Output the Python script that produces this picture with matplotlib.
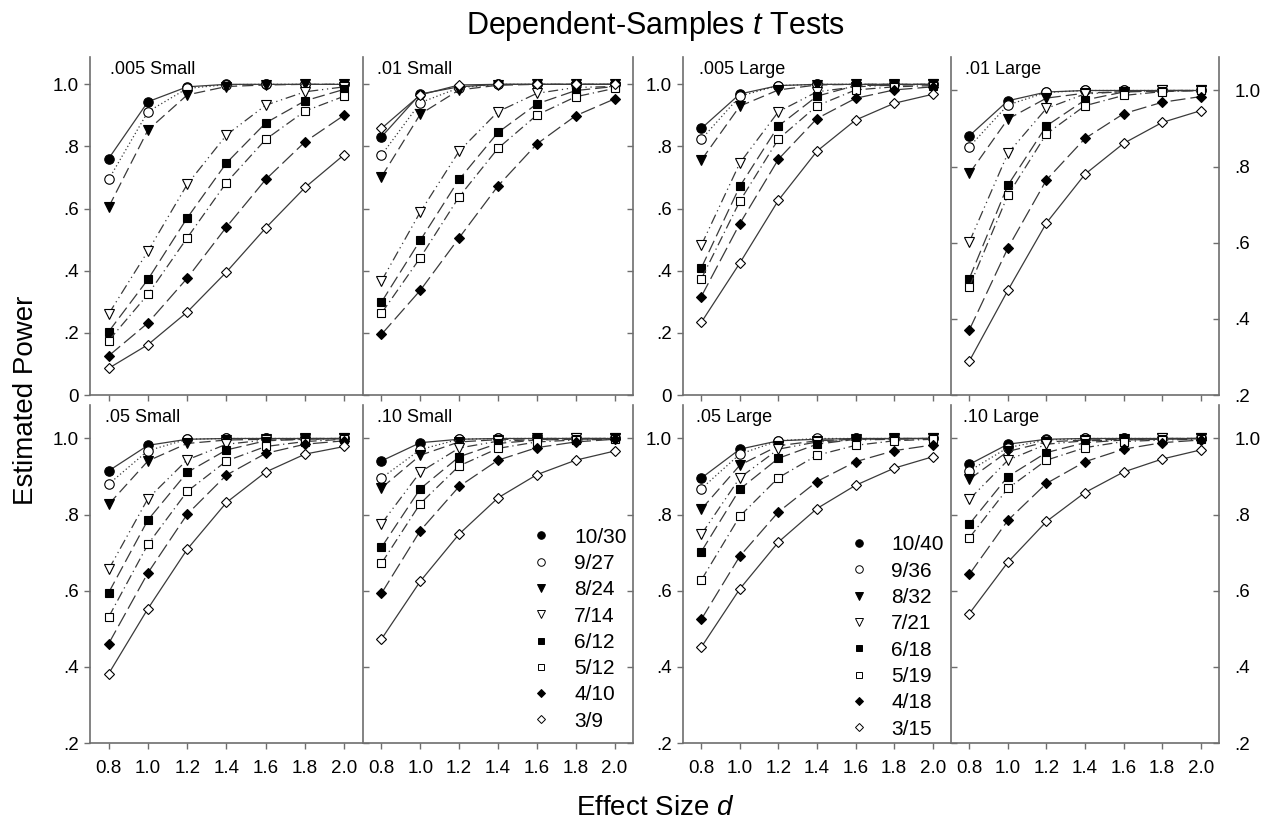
import matplotlib
matplotlib.use('Agg')
import matplotlib.pyplot as plt
from matplotlib.lines import Line2D
from matplotlib.ticker import FixedLocator, FuncFormatter

plt.rcParams['font.family'] = ['Liberation Sans', 'DejaVu Sans']
plt.rcParams['mathtext.fontset'] = 'custom'
plt.rcParams['mathtext.rm'] = 'Liberation Sans'
plt.rcParams['mathtext.it'] = 'Liberation Sans:italic'

effect_sizes = [0.8, 1.0, 1.2, 1.4, 1.6, 1.8, 2.0]
labels_small = ['10/30', '9/27', '8/24', '7/14', '6/12', '5/12', '4/10', '3/9']
labels_large = ['10/40', '9/36', '8/32', '7/21', '6/18', '5/19', '4/18', '3/15']
panel_titles = ['.005 Small', '.01 Small', '.005 Large', '.01 Large',
                '.05 Small', '.10 Small', '.05 Large', '.10 Large']

# one list per series, in legend order
power_005_small = [
    [0.761, 0.944, 0.992, 1.0, 1.0, 1.0, 1.0],
    [0.694, 0.912, 0.987, 0.999, 1.0, 1.0, 1.0],
    [0.605, 0.853, 0.966, 0.993, 0.998, 1.0, 1.0],
    [0.261, 0.463, 0.678, 0.837, 0.933, 0.976, 0.992],
    [0.204, 0.372, 0.570, 0.747, 0.876, 0.947, 0.984],
    [0.175, 0.324, 0.506, 0.684, 0.823, 0.914, 0.962],
    [0.126, 0.232, 0.376, 0.541, 0.694, 0.815, 0.901],
    [0.086, 0.162, 0.267, 0.396, 0.538, 0.668, 0.774],
]
power_01_small = [
    [0.831, 0.969, 0.992, 1.0, 1.0, 1.0, 1.0],
    [0.772, 0.941, 0.989, 1.0, 1.0, 1.0, 1.0],
    [0.702, 0.904, 0.982, 0.997, 1.0, 1.0, 1.0],
    [0.367, 0.589, 0.785, 0.912, 0.971, 0.990, 0.993],
    [0.299, 0.498, 0.694, 0.845, 0.937, 0.980, 0.993],
    [0.263, 0.442, 0.638, 0.794, 0.901, 0.960, 0.987],
    [0.195, 0.337, 0.506, 0.673, 0.808, 0.899, 0.953],
    [0.858, 0.966, 0.998, 1.0, 1.0, 1.0, 1.0],
]
power_005_large = [
    [0.858, 0.969, 0.996, 1.0, 1.0, 1.0, 1.0],
    [0.823, 0.962, 0.996, 1.0, 1.0, 1.0, 1.0],
    [0.756, 0.930, 0.982, 0.998, 1.0, 1.0, 1.0],
    [0.482, 0.747, 0.912, 0.976, 0.992, 0.998, 1.0],
    [0.409, 0.672, 0.866, 0.962, 0.996, 0.998, 1.0],
    [0.374, 0.624, 0.824, 0.931, 0.982, 0.992, 0.996],
    [0.317, 0.552, 0.759, 0.890, 0.955, 0.982, 0.992],
    [0.234, 0.425, 0.627, 0.785, 0.885, 0.939, 0.968],
]
power_01_large = [
    [0.881, 0.973, 0.996, 1.0, 1.0, 1.0, 1.0],
    [0.852, 0.962, 0.995, 1.0, 1.0, 1.0, 1.0],
    [0.782, 0.925, 0.980, 0.993, 0.997, 1.0, 1.0],
    [0.602, 0.835, 0.953, 0.991, 0.997, 1.0, 1.0],
    [0.506, 0.751, 0.907, 0.975, 0.996, 0.999, 1.0],
    [0.484, 0.725, 0.886, 0.960, 0.987, 0.997, 1.0],
    [0.371, 0.586, 0.765, 0.874, 0.939, 0.969, 0.984],
    [0.289, 0.475, 0.652, 0.780, 0.861, 0.916, 0.947],
]
power_05_small = [
    [0.915, 0.982, 0.998, 1.0, 1.0, 1.0, 1.0],
    [0.880, 0.968, 0.998, 1.0, 1.0, 1.0, 1.0],
    [0.827, 0.941, 0.987, 0.996, 0.998, 1.0, 1.0],
    [0.656, 0.842, 0.944, 0.985, 0.996, 0.998, 1.0],
    [0.595, 0.786, 0.911, 0.970, 0.994, 0.998, 1.0],
    [0.531, 0.722, 0.861, 0.941, 0.979, 0.992, 0.998],
    [0.461, 0.647, 0.801, 0.904, 0.961, 0.985, 0.994],
    [0.382, 0.553, 0.709, 0.832, 0.912, 0.959, 0.979],
]
power_10_small = [
    [0.941, 0.989, 0.998, 1.0, 1.0, 1.0, 1.0],
    [0.896, 0.971, 0.998, 1.0, 1.0, 1.0, 1.0],
    [0.870, 0.956, 0.991, 0.997, 1.0, 1.0, 1.0],
    [0.776, 0.912, 0.975, 0.993, 0.997, 1.0, 1.0],
    [0.714, 0.868, 0.952, 0.987, 0.996, 0.998, 1.0],
    [0.672, 0.829, 0.928, 0.974, 0.991, 0.996, 0.998],
    [0.593, 0.758, 0.874, 0.943, 0.976, 0.991, 0.998],
    [0.473, 0.625, 0.749, 0.844, 0.905, 0.943, 0.967],
]
power_05_large = [
    [0.896, 0.972, 0.994, 0.998, 1.0, 1.0, 1.0],
    [0.868, 0.959, 0.994, 1.0, 1.0, 1.0, 1.0],
    [0.814, 0.930, 0.981, 0.994, 0.998, 1.0, 1.0],
    [0.748, 0.897, 0.972, 0.991, 0.996, 0.998, 1.0],
    [0.703, 0.867, 0.948, 0.985, 0.998, 1.0, 1.0],
    [0.628, 0.796, 0.897, 0.956, 0.982, 0.994, 0.998],
    [0.525, 0.691, 0.807, 0.887, 0.939, 0.968, 0.983],
    [0.452, 0.605, 0.728, 0.816, 0.877, 0.922, 0.952],
]
power_10_large = [
    [0.932, 0.985, 0.998, 1.0, 1.0, 1.0, 1.0],
    [0.915, 0.976, 0.996, 1.0, 1.0, 1.0, 1.0],
    [0.893, 0.966, 0.991, 0.996, 0.998, 1.0, 1.0],
    [0.840, 0.943, 0.985, 0.994, 0.996, 1.0, 1.0],
    [0.775, 0.900, 0.963, 0.989, 0.996, 0.998, 1.0],
    [0.739, 0.869, 0.943, 0.976, 0.992, 0.996, 0.998],
    [0.643, 0.785, 0.882, 0.939, 0.972, 0.989, 0.996],
    [0.540, 0.675, 0.782, 0.858, 0.912, 0.946, 0.970],
]

panels = [power_005_small, power_01_small, power_005_large, power_01_large,
          power_05_small, power_10_small, power_05_large, power_10_large]

markers = ['o', 'o', 'v', 'v', 's', 's', 'D', 'D']
filled = [True, False, True, False, True, False, True, False]
msizes = [6.8, 6.8, 7, 7, 6.2, 6.2, 5.4, 5.4]
styles = ['-', (0, (1, 2)), (0, (9, 4)), (0, (8, 3, 1, 3, 1, 3)),
          (0, (10, 4)), (0, (8, 3, 1, 3)), (0, (12, 4)), '-']

W, H = 1275, 827
fig = plt.figure(figsize=(W / 100, H / 100), dpi=100)

cols = [(90, 363), (363, 633), (683, 951), (951, 1219)]
rows = [(57, 395), (405, 743)]
title_dx = [0.073, 0.052, 0.06, 0.052, 0.055, 0.052, 0.05, 0.045]

spine_col = '#6e6e6e'
line_col = '#3a3a3a'


def yfmt(v, pos):
    if abs(v) < 1e-9:
        return '0'
    if abs(v - 1.0) < 1e-9:
        return '1.0'
    return ('%.1f' % v)[1:]


axes = []
for i in range(8):
    r, c = divmod(i, 4)
    x0, x1 = cols[c]
    y0, y1 = rows[r]
    ax = fig.add_axes([x0 / W, 1 - y1 / H, (x1 - x0) / W, (y1 - y0) / H])
    axes.append(ax)
    data = panels[i]
    for k, series in enumerate(data):
        ax.plot(effect_sizes, series, color=line_col, lw=0.9, linestyle=styles[k],
                marker=markers[k], markersize=msizes[k],
                markerfacecolor='black' if filled[k] else 'white',
                markeredgecolor='black', markeredgewidth=0.8)

    ax.set_xlim(0.705, 2.095)
    if r == 0 and c < 3:
        ax.set_ylim(0, 1.088)
        ax.yaxis.set_major_locator(FixedLocator([0, 0.2, 0.4, 0.6, 0.8, 1.0]))
    else:
        ax.set_ylim(0.2, 1.088)
        ax.yaxis.set_major_locator(FixedLocator([0.2, 0.4, 0.6, 0.8, 1.0]))
    ax.yaxis.set_major_formatter(FuncFormatter(yfmt))
    ax.xaxis.set_major_locator(FixedLocator(effect_sizes))
    ax.xaxis.set_major_formatter(FuncFormatter(lambda v, p: '%.1f' % v))

    ax.spines['top'].set_visible(False)
    ax.spines['right'].set_visible(c in (1, 3))
    for s in ax.spines.values():
        s.set_color(spine_col)
        s.set_linewidth(1.2)
    ax.tick_params(colors=spine_col, labelcolor='black', labelsize=13.5, width=1)

    # x ticks
    ax.tick_params(axis='x', direction='out', length=4, pad=8,
                   labelbottom=(r == 1))
    # y ticks
    if c in (0, 2):
        ax.tick_params(axis='y', direction='out', length=4, pad=4,
                       left=True, labelleft=True, right=False)
    else:
        ax.tick_params(axis='y', direction='in', length=4, labelleft=False,
                       left=True, right=(c == 3), labelright=(c == 3), pad=11)
        if c == 1:
            ax.tick_params(axis='y', right=True, direction='in')

    ax.text(title_dx[i], 0.962, panel_titles[i], transform=ax.transAxes,
            fontsize=13, va='center', ha='left')


def legend_handles(labels):
    hs = []
    for k, lab in enumerate(labels):
        hs.append(Line2D([], [], linestyle='None', marker=markers[k],
                         markersize=msizes[k] * 0.8,
                         markerfacecolor='black' if filled[k] else 'white',
                         markeredgecolor='black', markeredgewidth=0.7, label=lab))
    return hs


leg1 = axes[5].legend(handles=legend_handles(labels_small), loc='upper left',
                      bbox_to_anchor=(0.62, 0.637), frameon=False, fontsize=15,
                      borderpad=0, handlelength=1.0, handletextpad=1.1,
                      labelspacing=0.35, borderaxespad=0)
leg2 = axes[6].legend(handles=legend_handles(labels_large), loc='upper left',
                      bbox_to_anchor=(0.617, 0.614), frameon=False, fontsize=15,
                      borderpad=0, handlelength=1.0, handletextpad=1.05,
                      labelspacing=0.35, borderaxespad=0)

fig.text(655 / W, 1 - 26 / H, 'Dependent-Samples $t$ Tests', fontsize=22,
         ha='center', va='center')
fig.text(655 / W, 1 - 808 / H, 'Effect Size $d$', fontsize=20,
         ha='center', va='center')
fig.text(26 / W, 1 - 400 / H, 'Estimated Power', fontsize=20, rotation=90,
         ha='center', va='center')

fig.savefig('out.png', dpi=100)
